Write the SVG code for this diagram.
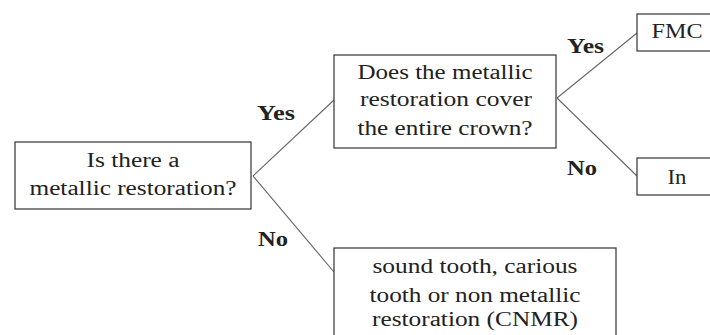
<svg xmlns="http://www.w3.org/2000/svg" width="710" height="335" viewBox="0 0 710 335">
<style>
.box{fill:#fff;stroke:#333;stroke-width:1.2}
.t{font-family:"Liberation Serif","Times New Roman",serif;font-size:20px;fill:#222;text-anchor:middle}
.lbl{font-family:"Liberation Serif","Times New Roman",serif;font-size:21px;font-weight:bold;fill:#222}
.con{stroke:#666;stroke-width:1.1;fill:none}
</style>
<rect width="710" height="335" fill="#fff"/>
<g id="connectors">
<line class="con" x1="253" y1="176" x2="334" y2="100"/>
<line class="con" x1="253" y1="176" x2="334" y2="272"/>
<line class="con" x1="557" y1="98" x2="637" y2="33"/>
<line class="con" x1="557" y1="98" x2="637" y2="176"/>
<text class="lbl" x="257" y="120" textLength="38" lengthAdjust="spacingAndGlyphs">Yes</text>
<text class="lbl" x="258" y="246" textLength="30" lengthAdjust="spacingAndGlyphs">No</text>
<text class="lbl" x="567" y="53" textLength="37" lengthAdjust="spacingAndGlyphs">Yes</text>
<text class="lbl" x="567" y="175" textLength="30" lengthAdjust="spacingAndGlyphs">No</text>
</g>
<g id="q1">
<rect class="box" x="15" y="142" width="236" height="67"/>
<text class="t" x="133" y="167" textLength="93" lengthAdjust="spacingAndGlyphs">Is there a</text>
<text class="t" x="133" y="195" textLength="207" lengthAdjust="spacingAndGlyphs">metallic restoration?</text>
</g>
<g id="q2">
<rect class="box" x="334" y="55" width="222" height="93"/>
<text class="t" x="445" y="79" textLength="175" lengthAdjust="spacingAndGlyphs">Does the metallic</text>
<text class="t" x="446" y="106" textLength="172" lengthAdjust="spacingAndGlyphs">restoration cover</text>
<text class="t" x="445" y="135" textLength="175" lengthAdjust="spacingAndGlyphs">the entire crown?</text>
</g>
<g id="fmc">
<rect class="box" x="637" y="14" width="80" height="37"/>
<text class="t" x="677" y="38" textLength="51" lengthAdjust="spacingAndGlyphs">FMC</text>
</g>
<g id="in">
<rect class="box" x="637" y="158" width="80" height="37"/>
<text class="t" x="677" y="184" textLength="19" lengthAdjust="spacingAndGlyphs">In</text>
</g>
<g id="cnmr">
<rect class="box" x="334" y="248" width="282" height="100"/>
<text class="t" x="475" y="273" textLength="205" lengthAdjust="spacingAndGlyphs">sound tooth, carious</text>
<text class="t" x="475" y="302" textLength="211" lengthAdjust="spacingAndGlyphs">tooth or non metallic</text>
<text class="t" x="475" y="326" textLength="206" lengthAdjust="spacingAndGlyphs">restoration (CNMR)</text>
</g>
</svg>
